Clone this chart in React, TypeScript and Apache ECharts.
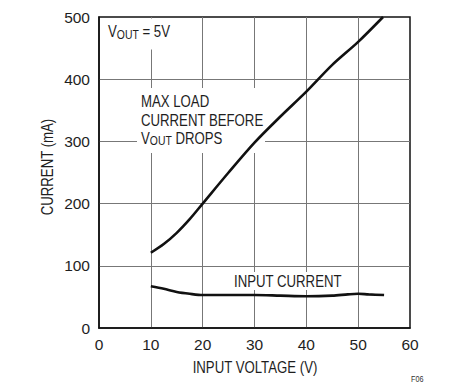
import React, { useEffect, useRef } from "react";
import * as echarts from "echarts";

const xTicks = [0, 10, 20, 30, 40, 50, 60];
const yTicks = [0, 100, 200, 300, 400, 500];

// Max load current before VOUT drops (mA) vs input voltage (V)
const maxLoadVin = [10, 12.5, 15, 17.5, 20, 25, 30, 35, 40, 45, 50, 54.8];
const maxLoadMa = [121, 135, 153, 175, 200, 250, 298, 340, 380, 423, 460, 500];

// Input current (mA) vs input voltage (V)
const inputVin = [10, 12.5, 15, 17.5, 20, 25, 30, 35, 40, 45, 48, 50, 52, 55];
const inputMa = [67, 63, 58, 55, 53, 53, 53, 52, 51, 52, 54, 55, 54, 53];

const FONT = "'Liberation Sans', Arial, sans-serif";
const TXT = "#1e1e1e";
const SX = 0.8;

export default function App() {
  const ref = useRef<HTMLDivElement>(null);
  useEffect(() => {
    if (!ref.current) return;
    const chart = echarts.init(ref.current, undefined, { renderer: "svg" });
    const pair = (xs: number[], ys: number[]) => xs.map((x, i) => [x, ys[i]]);
    chart.setOption({
      animation: false,
      backgroundColor: "#fff",
      grid: {
        left: 99,
        right: 44,
        top: 17,
        bottom: 62,
        show: true,
        borderColor: "#111",
        borderWidth: 1.5,
        backgroundColor: "transparent",
      },
      xAxis: {
        type: "value",
        min: xTicks[0],
        max: xTicks[xTicks.length - 1],
        interval: 10,
        axisLine: { show: true, lineStyle: { color: "#111", width: 1.5 } },
        axisTick: { show: false },
        axisLabel: { fontFamily: FONT, fontSize: 15.5, color: TXT, margin: 8 },
        splitLine: {
          show: true,
          showMinLine: false,
          showMaxLine: false,
          lineStyle: { color: "#777", width: 1 },
        },
      },
      yAxis: {
        type: "value",
        min: yTicks[0],
        max: yTicks[yTicks.length - 1],
        interval: 100,
        axisLine: { show: true, lineStyle: { color: "#111", width: 1.5 } },
        axisTick: { show: false },
        axisLabel: { fontFamily: FONT, fontSize: 15.5, color: TXT, margin: 9 },
        splitLine: {
          show: true,
          showMinLine: false,
          showMaxLine: false,
          lineStyle: { color: "#777", width: 1 },
        },
      },
      series: [
        {
          type: "line",
          data: pair(maxLoadVin, maxLoadMa),
          smooth: 0.3,
          showSymbol: false,
          lineStyle: { color: "#111", width: 2.6 },
          z: 4,
        },
        {
          type: "line",
          data: pair(inputVin, inputMa),
          smooth: 0.3,
          showSymbol: false,
          lineStyle: { color: "#111", width: 2.6 },
          z: 4,
        },
      ],
      graphic: [
        { type: "rect", z: 1, shape: { x: 101, y: 18.5, width: 75, height: 31 }, style: { fill: "#fff" } },
        { type: "rect", z: 1, shape: { x: 137, y: 88, width: 128, height: 65 }, style: { fill: "#fff" } },
        { type: "rect", z: 1, shape: { x: 230, y: 272, width: 118, height: 18 }, style: { fill: "#fff" } },
        {
          type: "text",
          z: 5,
          x: 108,
          y: 21,
          scaleX: SX,
          style: {
            text: "{a|V}{b|OUT}{a| = 5V}",
            textVerticalAlign: "top",
            rich: {
              a: { fontFamily: FONT, fontSize: 16.5, lineHeight: 20, fill: TXT },
              b: { fontFamily: FONT, fontSize: 13, lineHeight: 12, verticalAlign: "bottom", fill: TXT },
            },
          },
        },
        {
          type: "text",
          z: 5,
          x: 141,
          y: 92,
          scaleX: SX,
          style: {
            text: "{a|MAX LOAD}\n{a|CURRENT BEFORE}\n{a|V}{b|OUT}{a| DROPS}",
            textVerticalAlign: "top",
            rich: {
              a: { fontFamily: FONT, fontSize: 16.5, lineHeight: 18.3, fill: TXT },
              b: { fontFamily: FONT, fontSize: 13, lineHeight: 11, verticalAlign: "bottom", fill: TXT },
            },
          },
        },
        {
          type: "text",
          z: 5,
          x: 234,
          y: 281,
          scaleX: SX,
          style: {
            text: "INPUT CURRENT",
            fontFamily: FONT,
            fontSize: 16.5,
            fill: TXT,
            textVerticalAlign: "middle",
          },
        },
        {
          type: "text",
          z: 5,
          x: 255,
          y: 367,
          scaleX: SX,
          style: {
            text: "INPUT VOLTAGE (V)",
            fontFamily: FONT,
            fontSize: 16.5,
            fill: TXT,
            textAlign: "center",
            textVerticalAlign: "middle",
          },
        },
        {
          type: "text",
          z: 5,
          x: 47,
          y: 167,
          rotation: Math.PI / 2,
          scaleX: SX,
          style: {
            text: "CURRENT (mA)",
            fontFamily: FONT,
            fontSize: 16.5,
            fill: TXT,
            textAlign: "center",
            textVerticalAlign: "middle",
          },
        },
        {
          type: "text",
          z: 5,
          x: 411,
          y: 379,
          scaleX: SX,
          style: {
            text: "F06",
            fontFamily: FONT,
            fontSize: 9,
            fill: "#333",
            textVerticalAlign: "middle",
          },
        },
      ],
    });
    return () => chart.dispose();
  }, []);
  return (
    <div
      ref={ref}
      style={{ position: "fixed", left: 0, top: 0, width: 454, height: 390 }}
    />
  );
}
